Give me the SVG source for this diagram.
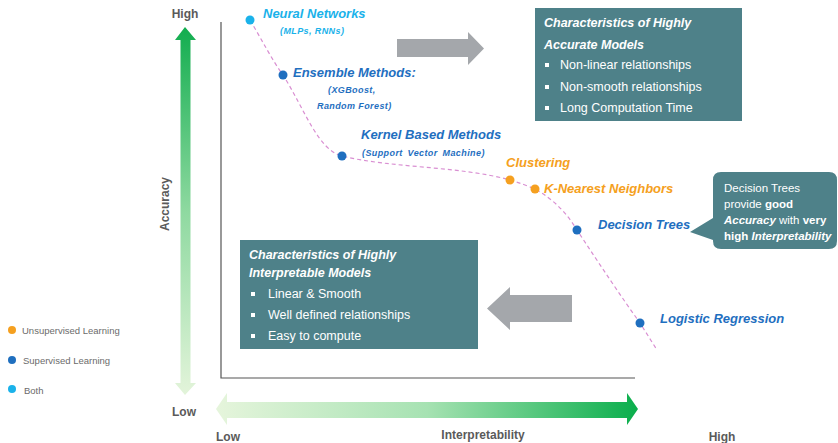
<svg xmlns="http://www.w3.org/2000/svg" width="838" height="443" viewBox="0 0 838 443">
  <defs>
    <linearGradient id="gVert" x1="0" y1="0" x2="0" y2="1">
      <stop offset="0" stop-color="#12ad4f"/>
      <stop offset="0.5" stop-color="#8ed9a0"/>
      <stop offset="1" stop-color="#e3f4da"/>
    </linearGradient>
    <linearGradient id="gHorz" x1="0" y1="0" x2="1" y2="0">
      <stop offset="0" stop-color="#e6f5dc"/>
      <stop offset="0.5" stop-color="#a6e2b2"/>
      <stop offset="1" stop-color="#0aae4c"/>
    </linearGradient>
    <style>
      text { font-family: "Liberation Sans", Arial, sans-serif; }
      .axis { fill: #5a5a5a; font-weight: bold; font-size: 12px; }
      .legend { fill: #6b6b6b; font-size: 9.5px; }
      .lbl { font-weight: bold; font-style: italic; font-size: 13px; }
      .sub { font-weight: bold; font-style: italic; font-size: 9px; letter-spacing: 0.4px; }
      .both { fill: #1ab2ea; }
      .sup { fill: #1f6fbf; }
      .uns { fill: #f5a020; }
      .box { fill: #4e8189; }
      .bh { fill: #ffffff; font-weight: bold; font-style: italic; font-size: 12.5px; }
      .bt { fill: #ffffff; font-size: 12.5px; }
      .ct { fill: #ffffff; font-size: 11.5px; }
      .gray { fill: #a4a7ab; }
    </style>
  </defs>

  <!-- plot frame -->
  <path d="M221,22 V378 H635" fill="none" stroke="#555" stroke-width="1.2"/>

  <!-- accuracy axis arrow -->
  <g id="accuracy-axis">
    <polygon points="185,27 196,40 190.5,40 190.5,383 196,383 185,395 175,383 180.5,383 180.5,40 175,40" fill="url(#gVert)"/>
    <text class="axis" x="185" y="18" text-anchor="middle">High</text>
    <text class="axis" x="184" y="416" text-anchor="middle">Low</text>
    <text class="axis" transform="translate(169,204) rotate(-90)" text-anchor="middle">Accuracy</text>
  </g>

  <!-- interpretability axis arrow -->
  <g id="interpretability-axis">
    <polygon points="216,409 227,393 227,402 627,402 627,393 638,409 627,425 627,418 227,418 227,425" fill="url(#gHorz)"/>
    <text class="axis" x="228" y="441" text-anchor="middle">Low</text>
    <text class="axis" x="483" y="439" text-anchor="middle">Interpretability</text>
    <text class="axis" x="722" y="441" text-anchor="middle">High</text>
  </g>

  <!-- legend -->
  <g id="legend">
    <circle class="uns" cx="12" cy="330" r="4"/>
    <text class="legend" x="22" y="334">Unsupervised  Learning</text>
    <circle class="sup" cx="12" cy="360" r="4"/>
    <text class="legend" x="23" y="364">Supervised  Learning</text>
    <circle class="both" cx="12" cy="389" r="4"/>
    <text class="legend" x="24" y="394">Both</text>
  </g>

  <!-- trade-off curve and direction arrows -->
  <g id="connectors">
    <path d="M250,20 C262,40 272,60 283,75 C305,110 318,150 342,156 C390,168 460,166 510,180 C520,183 528,186 535,189 C555,200 568,215 577,230 C600,265 620,295 640,323 L657,350" fill="none" stroke="#d98fd2" stroke-width="1.2" stroke-dasharray="4,3"/>
    <polygon class="gray" points="397,39 468,39 468,32 484,48.5 468,65 468,57 397,57"/>
    <polygon class="gray" points="572,295 510,295 510,287 487,308.5 510,330 510,322 572,322"/>
  </g>

  <g id="neural-networks">
    <circle class="both" cx="250" cy="20" r="4.5"/>
    <text class="lbl both" x="263" y="18">Neural Networks</text>
    <text class="sub both" x="280" y="34">(MLPs, RNNs)</text>
  </g>

  <g id="ensemble-methods">
    <circle class="sup" cx="283" cy="75" r="4.5"/>
    <text class="lbl sup" x="293" y="77">Ensemble Methods:</text>
    <text class="sub sup" x="328" y="93">(XGBoost,</text>
    <text class="sub sup" x="317" y="109">Random  Forest)</text>
  </g>

  <g id="kernel-methods">
    <circle class="sup" cx="342" cy="156" r="4.5"/>
    <text class="lbl sup" x="361" y="139">Kernel Based Methods</text>
    <text class="sub sup" x="362" y="156" word-spacing="2">(Support Vector Machine)</text>
  </g>

  <g id="clustering">
    <circle class="uns" cx="510" cy="180" r="4.5"/>
    <text class="lbl uns" x="506" y="167">Clustering</text>
  </g>

  <g id="knn">
    <circle class="uns" cx="535" cy="189" r="4.5"/>
    <text class="lbl uns" x="544" y="193">K-Nearest Neighbors</text>
  </g>

  <g id="decision-trees">
    <circle class="sup" cx="577" cy="230" r="4.5"/>
    <text class="lbl sup" x="598" y="229">Decision Trees</text>
  </g>

  <g id="logistic-regression">
    <circle class="sup" cx="640" cy="323" r="4.5"/>
    <text class="lbl sup" x="660" y="323">Logistic Regression</text>
  </g>

  <g id="accurate-models-box">
    <rect class="box" x="535" y="8" width="207" height="113"/>
    <text class="bh" x="544" y="27">Characteristics of Highly</text>
    <text class="bh" x="544" y="49">Accurate Models</text>
    <rect x="545" y="63" width="4" height="4" fill="#fff"/>
    <text class="bt" x="560" y="69">Non-linear  relationships</text>
    <rect x="545" y="85" width="4" height="4" fill="#fff"/>
    <text class="bt" x="560" y="91">Non-smooth relationships</text>
    <rect x="545" y="106" width="4" height="4" fill="#fff"/>
    <text class="bt" x="560" y="112">Long Computation Time</text>
  </g>

  <g id="interpretable-models-box">
    <rect class="box" x="240" y="240" width="238" height="109"/>
    <text class="bh" x="249" y="259">Characteristics of Highly</text>
    <text class="bh" x="249" y="277">Interpretable Models</text>
    <rect x="251" y="292" width="4" height="4" fill="#fff"/>
    <text class="bt" x="268" y="298">Linear &amp; Smooth</text>
    <rect x="251" y="313" width="4" height="4" fill="#fff"/>
    <text class="bt" x="268" y="319">Well defined relationships</text>
    <rect x="251" y="334" width="4" height="4" fill="#fff"/>
    <text class="bt" x="268" y="340">Easy to compute</text>
  </g>

  <g id="decision-trees-callout">
    <path class="box" d="M721,172 H829 Q837,172 837,180 V241 Q837,249 829,249 H721 Q713,249 713,241 V240 L690,232 L713,218 V180 Q713,172 721,172 Z"/>
    <text class="ct" x="724" y="192">Decision Trees</text>
    <text class="ct" x="724" y="208">provide <tspan font-weight="bold">good</tspan></text>
    <text class="ct" x="724" y="224"><tspan font-weight="bold" font-style="italic">Accuracy</tspan> with <tspan font-weight="bold">very</tspan></text>
    <text class="ct" x="724" y="240"><tspan font-weight="bold">high</tspan> <tspan font-weight="bold" font-style="italic">Interpretability</tspan></text>
  </g>
</svg>
